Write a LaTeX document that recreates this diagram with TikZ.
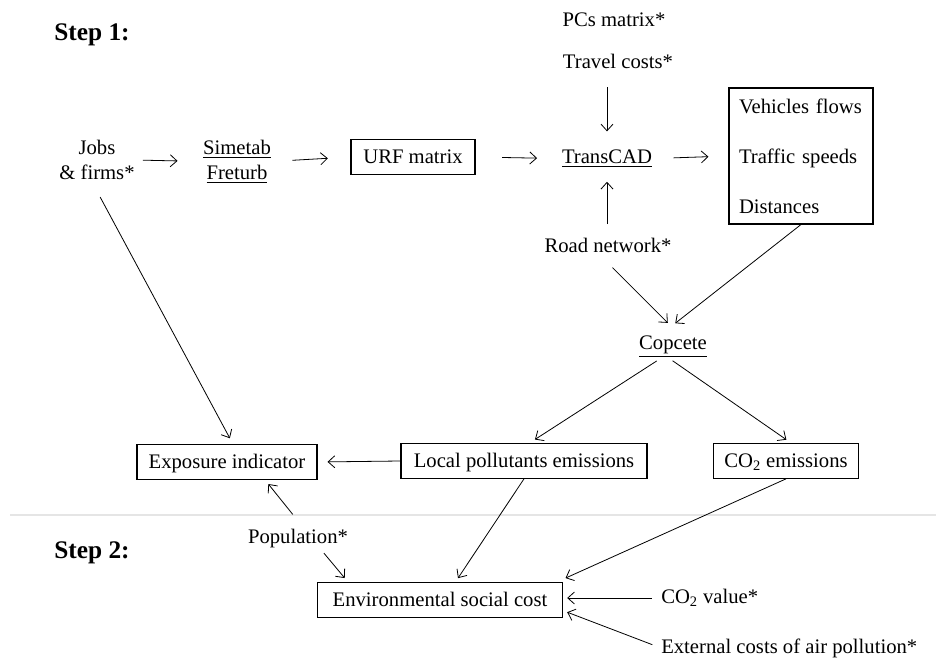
\documentclass[tikz,border=0pt]{standalone}
\usepackage{fontspec}
\setmainfont{Liberation Serif}
\usetikzlibrary{positioning,arrows.meta}

\begin{document}
\begin{tikzpicture}[
        x=0.75pt, y=-0.75pt,
        font=\fontsize{15.5}{18.75}\selectfont,
    plain/.style={
        draw=none,
        inner sep=0pt,
        align=center
    },
    box/.style={
        draw,
        line width=0.8pt,
        inner sep=0pt,
        text height=10.3pt,
        text depth=0pt,
        minimum height=26pt
    },
    heading/.style={
        draw=none,
        inner sep=0pt,
        font=\fontsize{19}{22}\selectfont\bfseries
    },
    flow/.style={
        -{Straight Barb[length=5pt,width=9pt]},
        line width=0.6pt
    }
    ]

    \useasboundingbox (0,0) rectangle (936,659);

    % step 1
    \node[heading] (step1) at (92,35) {Step 1:};
    \node[plain] (jobs) at (97,160) {Jobs\\\& firms*};
    \node[plain] (simfre) at (237,161.5) {\underline{Simetab}\\\underline{Freturb}};
    \node[box, minimum width=93pt] (urf) at (413,157) {URF matrix};
    \node[plain, anchor=base] (transcad) at (607,164) {\underline{TransCAD}};
    \node[plain] (pcs) at (614,20) {PCs matrix*};
    \node[plain] (travel) at (618,61) {Travel costs*};
    \node[plain] (road) at (608,245) {Road network*};
    \node[draw, line width=0.8pt, minimum width=108pt, minimum height=102pt, text width=93pt,
        inner xsep=7.5pt, inner ysep=0pt, align=left, font=\fontsize{15.5}{37.5}\selectfont]
        (flows) at (801,156) {Vehicles flows\\Traffic speeds\\Distances};
    \node[plain, anchor=base] (copcete) at (673,350) {\underline{Copcete}};
    \node[box, minimum width=184.5pt] (local) at (524,461) {Local pollutants emissions};
    \node[box, minimum width=109pt] (co2em) at (786,461) {CO\textsubscript{2} emissions};
    \node[box, minimum width=135pt] (expo) at (227,462) {Exposure indicator};

    % step 2
    \draw[gray!20, line width=0.8pt] (10,515) -- (936,515);
    \node[plain, anchor=base] (pop) at (298,543) {Population*};
    \node[heading] (step2) at (92,553) {Step 2:};
    \node[box, minimum width=184pt] (envcost) at (440,600) {Environmental social cost};
    \node[plain, anchor=west] (co2val) at (661,598) {CO\textsubscript{2} value*};
    \node[plain, anchor=west] (extcost) at (661,648) {External costs of air pollution*};

    % connectors
    \draw[flow, shorten <=6pt, shorten >=19pt] (jobs.east) -- (simfre.west);
    \draw[flow, shorten <=16pt, shorten >=17pt] (simfre.east) -- (urf.west);
    \draw[flow, shorten <=20pt, shorten >=18.5pt] (urf.east) -- (transcad.west);
    \draw[flow, shorten <=16pt, shorten >=15pt] (transcad.east) -- (flows.west);
    \draw[flow, shorten <=14pt, shorten >=14pt] (travel.south -| transcad.north) -- (transcad.north);
    \draw[flow, shorten <=10pt, shorten >=11pt] (road.north -| transcad.south) -- (transcad.south);
    \draw[flow, shorten >=15.5pt] (flows.south) -- ([xshift=-10.5pt]copcete.north);
    \draw[flow, shorten <=16pt, shorten >=14pt] ([xshift=-8pt]road.south) -- ([xshift=6pt]copcete.north);
    \draw[flow, shorten <=5pt, shorten >=5pt] ([xshift=-8pt]copcete.south) -- ([xshift=4pt]local.north);
    \draw[flow, shorten <=4.5pt, shorten >=4.5pt] ([xshift=-4pt]copcete.south) -- ([xshift=4pt]co2em.north);
    \draw[flow, shorten >=7.5pt] (local.west) -- (expo.east);
    \draw[flow, shorten <=14.5pt, shorten >=5pt] ([xshift=-4.5pt]jobs.south) -- ([xshift=4.5pt]expo.north);
    \draw[flow, shorten <=13.5pt, shorten >=4pt] ([xshift=4.5pt]pop.north) -- ([xshift=28.5pt]expo.south);
    \draw[flow, shorten <=5.4pt, shorten >=4pt] ([xshift=16pt]pop.south) -- ([xshift=23.5pt]envcost.north west);
    \draw[flow, shorten >=3.6pt] (local.south) -- ([xshift=11.5pt]envcost.north);
    \draw[flow, shorten >=7.4pt] (co2em.south) -- ([xshift=-5pt]envcost.north east);
    \draw[flow, shorten <=6.8pt, shorten >=3pt] (co2val.west) -- (co2val.west -| envcost.east);
    \draw[flow, shorten <=7pt, shorten >=3.2pt] (extcost.west) -- ([yshift=-8pt]envcost.east);
\end{tikzpicture}
\end{document}
